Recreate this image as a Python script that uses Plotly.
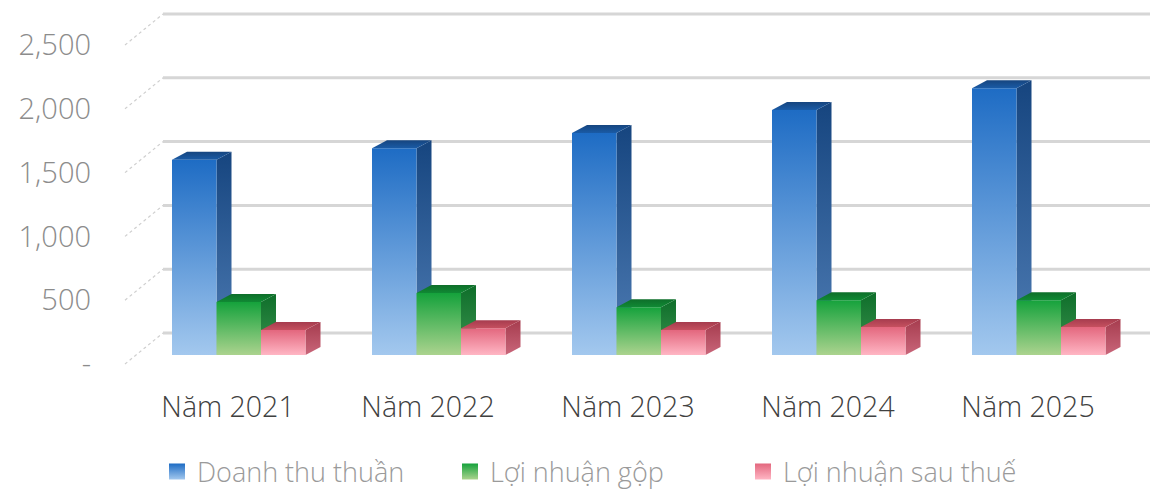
import plotly.graph_objects as go

# ---------------- data ----------------
categories = ["Năm 2021", "Năm 2022", "Năm 2023", "Năm 2024", "Năm 2025"]
series_names = ["Doanh thu thuần", "Lợi nhuận gộp", "Lợi nhuận sau thuế"]
doanh_thu = [1530, 1620, 1740, 1920, 2090]
ln_gop = [415, 485, 375, 430, 430]
ln_sau_thue = [195, 210, 195, 220, 220]
tick_vals = [0, 500, 1000, 1500, 2000, 2500]
tick_text = ["-", "500", "1,000", "1,500", "2,000", "2,500"]

series_values = [doanh_thu, ln_gop, ln_sau_thue]

# ---------------- styling ----------------
# (front_top, front_bottom, side_top, side_bottom, top_face)
palettes = [
    ("#1E6CC4", "#A3C8EE", "#16457F", "#4F7DB5", "#1A5BA6"),
    ("#15A23C", "#ABD38E", "#0E6E2A", "#3D9450", "#108A34"),
    ("#E3677E", "#FFB6C4", "#A63C4E", "#C9667A", "#C5505F"),
]

OFF = 8                             # page body margin
W, H = 1158 - OFF, 492 - OFF
PLOT_L, PLOT_B = 100 - OFF, 380 - OFF
PX_PER_X = 200.0                   # pixels per category
PX_PER_Y = 0.1276                  # pixels per value unit
X0_PX = 228 - OFF                  # pixel of category 0
ZERO_PX = 364 - OFF                # pixel of value 0 (label plane)

x_range = [-(X0_PX - PLOT_L) / PX_PER_X, (W - X0_PX) / PX_PER_X]
y_range = [-(PLOT_B - ZERO_PX) / PX_PER_Y, ZERO_PX / PX_PER_Y]


def dx(px):
    return px / PX_PER_X


def dy(px):
    return px / PX_PER_Y


BAR_W = dx(44.5)
GROUP_LEFT = dx(-56)
BASE = dy(9)            # bar front baseline offset
DEP_X, DEP_Y = dx(15), dy(8)   # bar depth
WALL_X, WALL_Y = dx(38), dy(31)  # floor/wall depth
SIDE_LEFT = dx(125 - 228)

fig = go.Figure()

# back-wall gridlines and side-wall marks
for v in tick_vals:
    fig.add_trace(go.Scatter(
        x=[SIDE_LEFT + WALL_X, x_range[1]], y=[v + WALL_Y, v + WALL_Y],
        mode="lines", line=dict(color="#D6D6D6", width=3),
        hoverinfo="skip", showlegend=False))
    fig.add_trace(go.Scatter(
        x=[SIDE_LEFT, SIDE_LEFT + WALL_X], y=[v, v + WALL_Y],
        mode="lines", line=dict(color="#CFCFCF", width=1.2, dash="dot"),
        hoverinfo="skip", showlegend=False))


def poly(xs, ys, grad):
    fig.add_trace(go.Scatter(
        x=xs + [xs[0]], y=ys + [ys[0]], mode="lines", fill="toself",
        line=dict(width=0, color="rgba(0,0,0,0)"),
        fillgradient=grad, hoverinfo="skip", showlegend=False))


for i in range(len(categories)):
    for j, vals in enumerate(series_values):
        ft, fb, st, sb, tf = palettes[j]
        v = vals[i]
        xl = i + GROUP_LEFT + j * BAR_W
        xr = xl + BAR_W
        yb = BASE
        yt = BASE + v
        # side face
        poly([xr, xr + DEP_X, xr + DEP_X, xr],
             [yb, yb + DEP_Y, yt + DEP_Y, yt],
             dict(type="vertical", colorscale=[[0, sb], [1, st]],
                  start=yb, stop=yt + DEP_Y))
        # front face
        poly([xl, xr, xr, xl], [yb, yb, yt, yt],
             dict(type="vertical", colorscale=[[0, fb], [1, ft]],
                  start=yb, stop=yt))
        # top face
        poly([xl, xr, xr + DEP_X, xl + DEP_X],
             [yt, yt, yt + DEP_Y, yt + DEP_Y],
             dict(type="vertical", colorscale=[[0, tf], [1, st]],
                  start=yt, stop=yt + DEP_Y))

# legend entries
for j, name in enumerate(series_names):
    ft, fb = palettes[j][0], palettes[j][1]
    fig.add_trace(go.Scatter(
        x=[None], y=[None], mode="markers", name=name,
        marker=dict(symbol="square", size=16, color=ft,
                    gradient=dict(type="vertical", color=fb))))

FONT = "Open Sans"
fig.update_layout(
    width=W, height=H,
    margin=dict(l=PLOT_L, r=0, t=0, b=H - PLOT_B, autoexpand=False),
    plot_bgcolor="white", paper_bgcolor="white",
    font=dict(family=FONT, weight=300),
    xaxis=dict(range=x_range, tickmode="array",
               tickvals=list(range(len(categories))), ticktext=categories,
               showgrid=False, zeroline=False, showline=False, ticks="",
               tickfont=dict(size=28.5, color="#404040", family=FONT, weight=300),
               ticklabelstandoff=7, fixedrange=True),
    yaxis=dict(range=y_range, tickmode="array", tickvals=tick_vals,
               ticktext=tick_text, showgrid=False, zeroline=False,
               showline=False, ticks="",
               tickfont=dict(size=29, color="#8C8C8C", family=FONT, weight=300),
               ticklabelstandoff=8, fixedrange=True),
    showlegend=True,
    legend=dict(orientation="h", xref="container", yref="container",
                x=(157 - OFF) / W, xanchor="left",
                y=(H - (472 - OFF)) / H, yanchor="middle",
                entrywidth=248, entrywidthmode="pixels",
                font=dict(size=27, color="#9A9A9A", family=FONT, weight=300),
                itemclick=False, itemdoubleclick=False, tracegroupgap=0),
)

fig.write_html("out.html")
